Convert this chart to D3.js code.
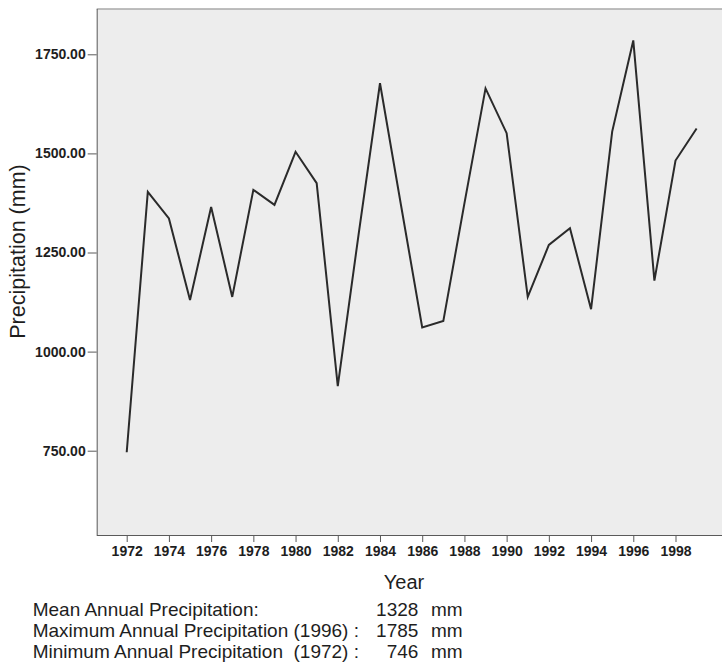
<!DOCTYPE html>
<html lang="en">
<head>
  <meta charset="utf-8">
  <title>Annual precipitation</title>
  <script src="https://d3js.org/d3.v7.min.js"></script>
  <style>
    body { margin: 0; background: #fff; }
    svg text { font-family: "Liberation Sans", Arial, sans-serif; fill: #1e1e1e; white-space: pre; }
    .axis path, .axis line { stroke: #5a5a5a; }
    .axis text { font-size: 14px; font-weight: bold; }
  </style>
</head>
<body>
  <div id="chart"></div>
  <script>
    // data
    var years = [1972, 1973, 1974, 1975, 1976, 1977, 1978, 1979, 1980, 1981,
                 1982, 1983, 1984, 1985, 1986, 1987, 1988, 1989, 1990, 1991,
                 1992, 1993, 1994, 1995, 1996, 1997, 1998, 1999];
    var precip = [746, 1403, 1336, 1130, 1365, 1138, 1408, 1370, 1504, 1425,
                  913, 1301, 1677, 1368, 1061, 1077, 1374, 1664, 1551, 1138,
                  1269, 1311, 1107, 1555, 1785, 1179, 1482, 1563];
    var yTicks = [750, 1000, 1250, 1500, 1750];
    var xTicks = [1972, 1974, 1976, 1978, 1980, 1982, 1984, 1986, 1988, 1990, 1992, 1994, 1996, 1998];
    var summaryLabels = ["Mean Annual Precipitation:",
                         "Maximum Annual Precipitation (1996) :",
                         "Minimum Annual Precipitation  (1972) :"];
    var summaryValues = ["1328", "1785", "746"];

    var w = 722, h = 664;
    var plotLeft = 96.7, plotTop = 9, plotBottom = 535, plotRight = 722;

    var svg = d3.select("#chart").append("svg")
      .attr("width", w)
      .attr("height", h);

    var x = d3.scaleLinear().domain([1972, 1998]).range([126.7, 675.5]);
    var y = d3.scaleLinear().domain([750, 1750]).range([450.7, 54.3]);

    // plot background
    svg.append("rect")
      .attr("x", plotLeft)
      .attr("y", plotTop)
      .attr("width", plotRight - plotLeft + 5)
      .attr("height", plotBottom - plotTop)
      .attr("fill", "#ededed");

    svg.append("line")
      .attr("x1", plotLeft).attr("x2", plotRight)
      .attr("y1", plotTop).attr("y2", plotTop)
      .attr("stroke", "#a8a8a8")
      .attr("stroke-width", 1.5);

    // axes
    svg.append("g")
      .attr("class", "axis")
      .attr("transform", "translate(0," + plotBottom + ")")
      .call(d3.axisBottom(x).tickValues(xTicks).tickFormat(d3.format("d"))
        .tickSize(7).tickPadding(4).tickSizeOuter(0))
      .call(function(g) { g.select(".domain").attr("d", "M" + plotLeft + ",0.5H" + plotRight); });

    svg.append("g")
      .attr("class", "axis")
      .attr("transform", "translate(" + plotLeft + ",0)")
      .call(d3.axisLeft(y).tickValues(yTicks).tickFormat(d3.format(".2f"))
        .tickSize(9).tickPadding(2).tickSizeOuter(0))
      .call(function(g) { g.select(".domain").attr("d", "M0.5," + plotTop + "V" + plotBottom); });

    // line
    var line = d3.line()
      .x(function(d, i) { return x(years[i]); })
      .y(function(d) { return y(d); });

    svg.append("path")
      .datum(precip)
      .attr("d", line)
      .attr("fill", "none")
      .attr("stroke", "#2a2a2a")
      .attr("stroke-width", 2)
      .attr("stroke-linejoin", "miter");

    // axis titles
    svg.append("text")
      .attr("x", 404)
      .attr("y", 588.5)
      .attr("text-anchor", "middle")
      .style("font-size", "20px")
      .text("Year");

    svg.append("text")
      .attr("transform", "translate(25,251.5) rotate(-90)")
      .attr("text-anchor", "middle")
      .style("font-size", "21.5px")
      .text("Precipitation (mm)");

    // summary lines
    var rows = svg.append("g").selectAll("g")
      .data(summaryLabels)
      .enter()
      .append("g")
      .attr("transform", function(d, i) { return "translate(0," + (616 + i * 21) + ")"; });

    rows.append("text")
      .attr("x", 32.7)
      .style("font-size", "19px")
      .text(function(d) { return d; });

    rows.append("text")
      .attr("x", 418.4)
      .attr("text-anchor", "end")
      .style("font-size", "19px")
      .text(function(d, i) { return summaryValues[i]; });

    rows.append("text")
      .attr("x", 431)
      .style("font-size", "19px")
      .text("mm");
  </script>
</body>
</html>
